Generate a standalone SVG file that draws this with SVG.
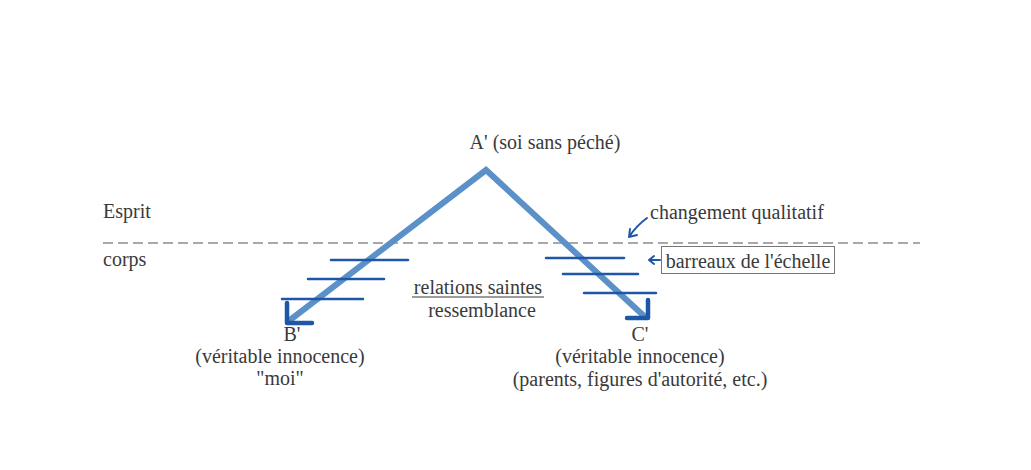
<svg xmlns="http://www.w3.org/2000/svg" width="1031" height="470" viewBox="0 0 1031 470">
<defs>
<style>
text{font-family:'Liberation Serif','DejaVu Serif',serif;font-size:20px;fill:#3a3a3a}
.mid{text-anchor:middle}
.main{fill:none;stroke:#5b90c8;stroke-width:6;stroke-linecap:round;stroke-linejoin:miter}
.rung{fill:none;stroke:#1f57a8;stroke-width:2.5;stroke-linecap:round}
.head{fill:none;stroke:#1f57a8;stroke-width:4.5;stroke-linecap:round;stroke-linejoin:round}
.pen{fill:none;stroke:#1f57a8;stroke-width:2;stroke-linecap:round;stroke-linejoin:round}
</style>
</defs>
<rect width="1031" height="470" fill="#ffffff"/>
<g id="separator">
<line x1="103" y1="243" x2="920" y2="243" stroke="#555" stroke-width="1.2" stroke-dasharray="10,5"/>
</g>
<g id="connectors">
<polyline class="main" points="290,320 486,170 644,316"/>
<path class="head" d="M287,303 L287,323 L312,323"/>
<path class="head" d="M648,300 L648,318 L627,318"/>
<line class="rung" x1="331" y1="260" x2="408" y2="260"/>
<line class="rung" x1="308" y1="279" x2="384" y2="279"/>
<line class="rung" x1="282" y1="299" x2="363" y2="299"/>
<line class="rung" x1="546" y1="258" x2="624" y2="258"/>
<line class="rung" x1="563" y1="274" x2="638" y2="274"/>
<line class="rung" x1="584" y1="293" x2="656" y2="293"/>
<path class="pen" d="M647,218 Q636,226 629,237 M629,237 L630,229 M629,237 L637,235"/>
<path class="pen" d="M660,260 L649,260 M649,260 L654,256 M649,260 L654,264"/>
</g>
<g id="node-A">
<text class="mid" x="545" y="149" font-family="Liberation Serif">A' (soi sans péché)</text>
</g>
<g id="label-esprit">
<text x="103" y="218">Esprit</text>
</g>
<g id="label-corps">
<text x="103" y="266">corps</text>
</g>
<g id="label-changement">
<text x="650" y="219">changement qualitatif</text>
</g>
<g id="label-barreaux">
<rect x="661.5" y="246.5" width="173" height="27" fill="none" stroke="#777" stroke-width="1"/>
<text class="mid" x="748" y="268">barreaux de l'échelle</text>
</g>
<g id="label-relations">
<text class="mid" x="478" y="294">relations saintes</text>
<line x1="412" y1="297" x2="544" y2="297" stroke="#3a3a3a" stroke-width="1.2"/>
<text class="mid" x="482" y="317">ressemblance</text>
</g>
<g id="node-B">
<text class="mid" x="292" y="341">B'</text>
<text class="mid" x="280" y="363">(véritable innocence)</text>
<text class="mid" x="280" y="385">"moi"</text>
</g>
<g id="node-C">
<text class="mid" x="640" y="341">C'</text>
<text class="mid" x="640" y="363">(véritable innocence)</text>
<text class="mid" x="640" y="386">(parents, figures d'autorité, etc.)</text>
</g>
</svg>
